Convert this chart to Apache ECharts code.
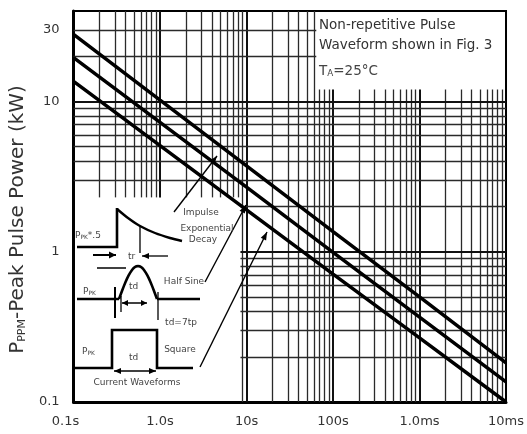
<!DOCTYPE html>
<html><head><meta charset="utf-8">
<script src="https://cdn.jsdelivr.net/npm/echarts@6/dist/echarts.min.js"></script>
<style>html,body{margin:0;padding:0;background:#fff}#c{width:527px;height:434px}</style>
</head><body><div id="c"></div>
<script>
// ---- data ----
const pulseTimeUs = [0.1, 1, 10, 100, 1000, 10000];
const xTickLabels = ['0.1s', '1.0s', '10s', '100s', '1.0ms', '10ms'];
const yTickValues = [0.1, 1, 10];
const yTickLabels = ['0.1', '1', '10'];
const yExtraTick = 30;
const yExtraLabel = '30';
const impulseKW = [28, 10.2, 3.73, 1.36, 0.50, 0.182];
const halfSineKW = [19.6, 7.26, 2.69, 0.99, 0.367, 0.136];
const squareKW = [13.6, 5.09, 1.90, 0.71, 0.267, 0.10];

const X_MIN = 0.1, X_MAX = 10000, Y_MIN = 0.1, Y_MAX = 40;
// blank (grid-free) areas of the log paper
const INSET_X = 8.5, INSET_Y = 2.3;     // lower-left waveform inset
const NOTE_X = 64, NOTE_Y = 12;         // upper-right note box

const FONT = 'DejaVu Sans';
const GRID_COLOR = '#2a2a2a';

function near(a, b) { return Math.abs(a - b) <= Math.abs(b) * 1e-6; }

// ---- log-paper grid lines as segments ----
const gridSegs = [];
function seg(x0, y0, x1, y1, major, extra) {
  const ls = { width: major ? 2 : 1.3, color: major ? '#111' : GRID_COLOR };
  const a = { coord: [x0, y0], lineStyle: ls };
  if (extra) Object.assign(a, extra);
  gridSegs.push([a, { coord: [x1, y1], lineStyle: ls }]);
}
for (let n = -1; n <= 3; n++) {
  for (let k = 1; k <= 9; k++) {
    const x = k * Math.pow(10, n);
    if (near(x, X_MIN)) continue;
    let y0 = Y_MIN, y1 = Y_MAX;
    if (x < INSET_X) y0 = INSET_Y;
    if (x > NOTE_X) y1 = NOTE_Y;
    seg(x, y0, x, y1, k === 1);
  }
}
const yLines = [];
for (let n = -1; n <= 0; n++) for (let k = 1; k <= 9; k++) yLines.push([k * Math.pow(10, n), k === 1]);
yLines.push([10, true], [20, false], [30, false]);
yLines.forEach(([y, major]) => {
  if (near(y, Y_MIN)) return;
  let x0 = X_MIN, x1 = X_MAX;
  if (y < INSET_Y) x0 = INSET_X;
  if (y > NOTE_Y) x1 = NOTE_X;
  const extra = near(y, yExtraTick) ? { label: { show: true, formatter: yExtraLabel, position: 'start', distance: 14,
    color: '#333', fontFamily: FONT, fontSize: 13 } } : null;
  seg(x0, y, x1, y, major, extra);
});

const chart = echarts.init(document.getElementById('c'), null, { renderer: 'canvas' });

function pts(vals) { return pulseTimeUs.map((x, i) => [x, vals[i]]); }
function curve(name, vals) {
  return { name, type: 'line', data: pts(vals), symbol: 'none', z: 3, silent: true,
    lineStyle: { color: '#000', width: 3.5 }, animation: false };
}

// ---- annotation helpers (illustration graphics) ----
const G = [];
function line(points, w, extra) {
  G.push(Object.assign({ type: 'polyline', z: 50, shape: { points },
    style: { stroke: '#000', lineWidth: w, fill: null } }, extra || {}));
}
function head(x1, y1, x2, y2, len, wid) {
  const a = Math.atan2(y2 - y1, x2 - x1), c = Math.cos(a), s = Math.sin(a);
  G.push({ type: 'polygon', z: 51, shape: { points: [
    [x2, y2], [x2 - len * c + wid * s, y2 - len * s - wid * c], [x2 - len * c - wid * s, y2 - len * s + wid * c]] },
    style: { fill: '#000' } });
}
function arrow(x1, y1, x2, y2, w, len, wid) { line([[x1, y1], [x2, y2]], w); head(x1, y1, x2, y2, len, wid); }
function txt(text, x, y, size, extra) {
  G.push({ type: 'text', z: 52, x, y, style: Object.assign({ text, fontFamily: FONT, fontSize: size,
    fill: '#444', align: 'left', verticalAlign: 'middle' }, extra || {}) });
}
const subRich = (s) => ({ a: { fontFamily: FONT, fontSize: s, fill: '#444' }, b: { fontFamily: FONT, fontSize: s * 0.65, fill: '#444', padding: [s * 0.35, 0, 0, 0] } });

// note box
txt('Non-repetitive Pulse', 319, 25, 13.5, { fill: '#333' });
txt('Waveform shown in Fig. 3', 319, 45, 13.5, { fill: '#333' });
txt('{a|T}{b|A}{a|=25°C}', 319, 71, 13.5, { rich: subRich(13.5) });

// arrows from waveform names to curves
arrow(174, 212, 217, 156, 1.4, 8, 3);
arrow(205, 282, 246, 205, 1.4, 8, 3);
arrow(200, 367, 267, 232, 1.4, 8, 3);
txt('Impulse', 201, 213, 9, { align: 'center' });
txt('Exponential', 207, 229, 9, { align: 'center' });
txt('Decay', 203, 240, 9, { align: 'center' });
txt('Half Sine', 184, 282, 9, { align: 'center' });
txt('td=7tp', 181, 323, 9, { align: 'center' });
txt('Square', 180, 350, 9, { align: 'center' });
txt('Current Waveforms', 137, 383, 9, { align: 'center' });

// impulse (exponential decay) waveform
line([[77, 247], [117, 247], [117, 208]], 2.6);
line([[117, 209], [128, 218], [140, 226], [155, 233], [170, 238], [182, 241]], 2.4, { shape: { points: [[117, 209], [128, 218], [140, 226], [155, 233], [170, 238], [182, 241]], smooth: 0.3 } });
line([[140, 226], [140, 253]], 1.3);
arrow(93, 255, 116, 255, 2, 7, 3.5);
arrow(168, 256, 142, 256, 1.3, 7, 3);
txt('{a|P}{b|PK}{a|*.5}', 75, 236, 9, { rich: subRich(9) });
txt('tr', 128, 257, 9);

// half-sine waveform
const hs = [];
for (let i = 0; i <= 24; i++) { const t = i / 24; hs.push([119 + 38 * t, 299 - 33 * Math.sin(Math.PI * t)]); }
line([[77, 299], [119, 299]], 2.6);
line(hs, 2.6);
line([[157, 299], [200, 299]], 2.6);
line([[97, 268], [126, 268]], 1.5);
line([[115, 287], [115, 318]], 2);
line([[121, 296], [121, 312]], 1.3);
line([[158, 292], [158, 320]], 1.3);
arrow(134, 303, 122, 303, 1.5, 6, 3);
arrow(134, 303, 147, 303, 1.5, 6, 3);
txt('{a|P}{b|PK}', 83, 292, 9, { rich: subRich(9) });
txt('td', 129, 287, 9);

// square waveform
line([[75, 368], [112, 368], [112, 330], [157, 330], [157, 368], [193, 368]], 2.6);
arrow(135, 371, 114, 371, 1.5, 7, 3);
arrow(135, 371, 156, 371, 1.5, 7, 3);
txt('{a|P}{b|PK}', 82, 352, 9, { rich: subRich(9) });
txt('td', 129, 358, 9);

const option = {
  animation: false,
  backgroundColor: '#fff',
  grid: { left: 69, right: 17, top: 11, bottom: 32, show: true, borderColor: '#000', borderWidth: 2 },
  xAxis: {
    type: 'log', logBase: 10, min: X_MIN, max: X_MAX,
    axisLine: { show: true, onZero: false, lineStyle: { color: '#000', width: 3 } },
    axisTick: { show: false }, splitLine: { show: false },
    axisLabel: {
      margin: 13, color: '#333', fontFamily: FONT, fontSize: 13,
      formatter: (v) => {
        const i = pulseTimeUs.findIndex((t) => near(v, t));
        if (i < 0) return '';
        return i === 0 ? '{f|' + xTickLabels[i] + '}' : xTickLabels[i];
      },
      rich: { f: { color: '#333', fontFamily: FONT, fontSize: 13, padding: [0, 16, 0, 0] } }
    }
  },
  yAxis: {
    type: 'log', logBase: 10, min: Y_MIN, max: Y_MAX,
    axisLine: { show: true, onZero: false, lineStyle: { color: '#000', width: 3 } },
    axisTick: { show: false }, splitLine: { show: false },
    axisLabel: {
      margin: 14, color: '#333', fontFamily: FONT, fontSize: 13,
      formatter: (v) => { const i = yTickValues.findIndex((t) => near(v, t)); return i < 0 ? '' : yTickLabels[i]; }
    },
    name: '{p|P}{s|PPM}{p|-Peak Pulse Power (kW)}',
    nameLocation: 'middle', nameGap: 41,
    nameTextStyle: {
      padding: [0, 26, 0, 0],
      rich: {
        p: { fontFamily: FONT, fontSize: 20, color: '#333' },
        s: { fontFamily: FONT, fontSize: 11, color: '#333', padding: [9, 0, 0, 0] }
      }
    }
  },
  graphic: G,
  series: [
    { name: 'grid', type: 'line', data: [], z: 1, silent: true,
      markLine: { z: 1, silent: true, symbol: ['none', 'none'], animation: false,
        label: { show: false }, emphasis: { disabled: true },
        lineStyle: { type: 'solid', color: GRID_COLOR, width: 1.3 }, data: gridSegs } },
    curve('Impulse', impulseKW),
    curve('Half Sine', halfSineKW),
    curve('Square', squareKW)
  ]
};
chart.setOption(option);
</script>
</body></html>
